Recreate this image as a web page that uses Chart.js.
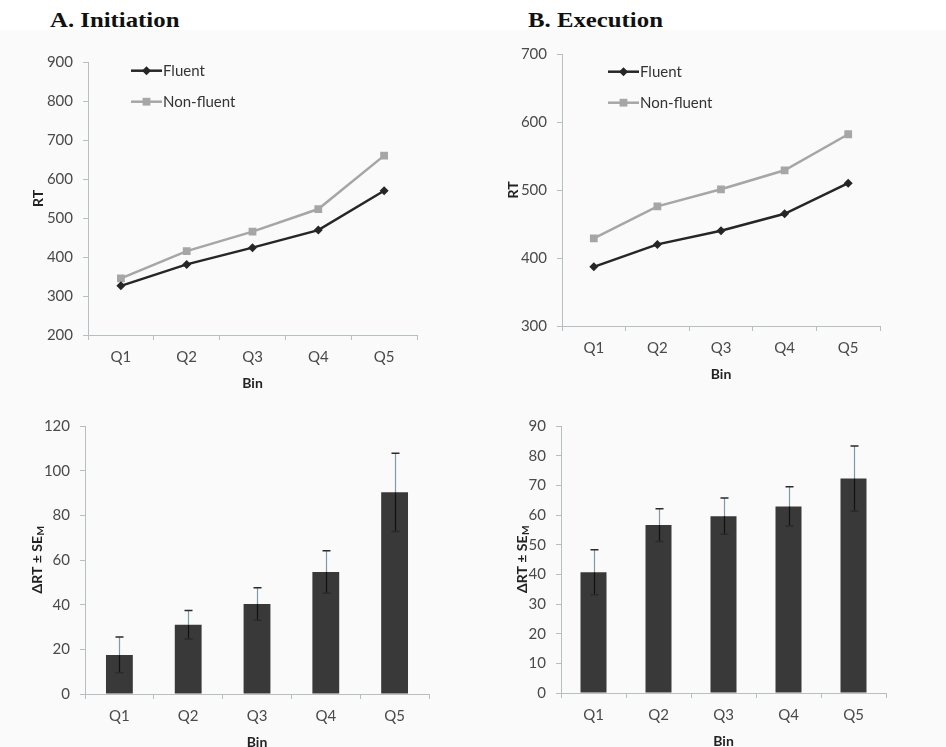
<!DOCTYPE html>
<html>
<head>
<meta charset="utf-8">
<script src="https://cdn.jsdelivr.net/npm/chart.js@4.4.1/dist/chart.umd.min.js"></script>
<style>
  html, body { margin: 0; padding: 0; }
  body { width: 946px; height: 747px; overflow: hidden; position: relative; background: #ffffff; }
  .panel-bg { position: absolute; left: 0; top: 30px; width: 946px; height: 717px; background: #fafafa; }
  .title { position: absolute; font-family: "Liberation Serif", serif; font-weight: bold; font-size: 21px;
           line-height: 21px; color: #111; transform: scaleX(1.18); transform-origin: left top; white-space: nowrap; }
  canvas { position: absolute; }
</style>
</head>
<body>
<div class="panel-bg"></div>
<div class="title" style="left:50px; top:10px;">A. Initiation</div>
<div class="title" style="left:528px; top:10px;">B. Execution</div>
<canvas id="initRT"></canvas>
<canvas id="execRT"></canvas>
<canvas id="initDelta"></canvas>
<canvas id="execDelta"></canvas>
<script>
// Données
const bins = ['Q1', 'Q2', 'Q3', 'Q4', 'Q5'];
const seriesNames = ['Fluent', 'Non-fluent'];

const initFluent = [326, 381, 424, 469, 570];
const initNonFluent = [345, 415, 465, 523, 660];
const execFluent = [387, 420, 440, 465, 510];
const execNonFluent = [429, 476, 501, 529, 582];

const initDiff = [17.5, 31, 40.3, 54.6, 90.3];
const initSE = [8, 6.4, 7.3, 9.5, 17.5];
const execDiff = [40.7, 56.6, 59.6, 62.9, 72.3];
const execSE = [7.6, 5.5, 6.1, 6.6, 11];

// Couleurs
const colors = {
  fluent: '#262626',
  nonFluent: '#a6a6a6',
  bar: '#393939',
  axis: '#b8bfc3',
  tick: '#4a4a4a',
  title: '#222222'
};
const tickFont = { family: 'Lato', size: 15 };
const titleFont = { family: 'Lato', size: 14, weight: 'bold' };

// Légende dessinée dans la zone du graphique
const miniLegend = {
  id: 'miniLegend',
  afterDraw(chart, args, opts) {
    if (!opts.show) return;
    const ctx = chart.ctx;
    const a = chart.chartArea;
    ctx.save();
    chart.data.datasets.forEach((ds, i) => {
      const x0 = a.left + opts.x;
      const y = a.top + opts.y + i * opts.gap;
      ctx.strokeStyle = ds.borderColor;
      ctx.lineWidth = ds.borderWidth;
      ctx.beginPath();
      ctx.moveTo(x0, y);
      ctx.lineTo(x0 + 31, y);
      ctx.stroke();
      ctx.fillStyle = ds.borderColor;
      const cx = x0 + 15.5;
      ctx.beginPath();
      if (ds.pointStyle === 'rectRot') {
        const r = ds.pointRadius;
        ctx.moveTo(cx, y - r); ctx.lineTo(cx + r, y); ctx.lineTo(cx, y + r); ctx.lineTo(cx - r, y);
        ctx.closePath();
      } else {
        const s = ds.pointRadius * Math.SQRT1_2;
        ctx.rect(cx - s, y - s, 2 * s, 2 * s);
      }
      ctx.fill();
      ctx.fillStyle = '#333333';
      ctx.font = '15px Lato';
      ctx.textBaseline = 'middle';
      ctx.textAlign = 'left';
      ctx.fillText(ds.label, x0 + 32, y);
    });
    ctx.restore();
  }
};

// Barres d'erreur ± SE
const errorBars = {
  id: 'errorBars',
  afterDatasetsDraw(chart, args, opts) {
    if (!opts.se) return;
    const ctx = chart.ctx;
    const ys = chart.scales.y;
    const values = chart.data.datasets[0].data;
    const meta = chart.getDatasetMeta(0);
    ctx.save();
    meta.data.forEach((bar, i) => {
      const x = Math.round(bar.x) + 0.5;
      const yTop = ys.getPixelForValue(values[i] + opts.se[i]);
      const yMid = ys.getPixelForValue(values[i]);
      const yBot = ys.getPixelForValue(values[i] - opts.se[i]);
      ctx.lineWidth = 1.2;
      ctx.strokeStyle = '#7f9aa8';
      ctx.beginPath(); ctx.moveTo(x, yTop); ctx.lineTo(x, yMid); ctx.stroke();
      ctx.strokeStyle = '#111111';
      ctx.beginPath(); ctx.moveTo(x, yMid); ctx.lineTo(x, yBot); ctx.stroke();
      ctx.strokeStyle = '#2a2a2a';
      ctx.lineWidth = 1.5;
      ctx.beginPath();
      ctx.moveTo(x - 4, yTop); ctx.lineTo(x + 4, yTop);
      ctx.moveTo(x - 4, yBot); ctx.lineTo(x + 4, yBot);
      ctx.stroke();
    });
    ctx.restore();
  }
};

// Titre vertical avec indice (ΔRT ± SE_M)
const subTitle = {
  id: 'subTitle',
  afterDraw(chart, args, opts) {
    if (!opts.show) return;
    const ctx = chart.ctx;
    const a = chart.chartArea;
    const x = chart.scales.y.left + 4 + 8.4;
    const y = (a.top + a.bottom) / 2;
    ctx.save();
    ctx.translate(x, y);
    ctx.rotate(-Math.PI / 2);
    ctx.fillStyle = colors.title;
    ctx.textBaseline = 'middle';
    ctx.textAlign = 'left';
    ctx.font = 'bold 14px Lato';
    const main = 'ΔRT ± SE';
    const w1 = ctx.measureText(main).width;
    ctx.font = 'bold 10px Lato';
    const w2 = ctx.measureText('M').width;
    const start = -(w1 + w2) / 2;
    ctx.font = 'bold 14px Lato';
    ctx.fillText(main, start, 0);
    ctx.font = 'bold 10px Lato';
    ctx.fillText('M', start + w1 + 0.5, 4);
    ctx.restore();
  }
};

function placeCanvas(id, box) {
  const c = document.getElementById(id);
  c.width = box.width;
  c.height = box.height;
  c.style.left = box.left + 'px';
  c.style.top = box.top + 'px';
  c.style.width = box.width + 'px';
  c.style.height = box.height + 'px';
  return c;
}

function buildScales(box, area, yTitleX, binY, yMin, yMax, yStep, yTitle) {
  const pl = yTitleX - 12.4 - box.left;
  const yW = area.L - box.left - pl;
  const xH = binY + 12.4 - area.B;
  const padding = {
    left: pl,
    top: area.T - box.top,
    right: box.left + box.width - area.R,
    bottom: box.top + box.height - (area.B + xH)
  };
  const scales = {
    x: {
      type: 'category',
      offset: true,
      grid: { display: true, offset: true, drawOnChartArea: false, drawTicks: true, tickLength: 5, color: colors.axis },
      border: { display: true, color: colors.axis, width: 1 },
      ticks: { color: colors.tick, font: tickFont, padding: 8, maxRotation: 0 },
      title: { display: true, text: 'Bin', color: colors.title, font: titleFont, padding: 4 },
      afterFit(s) { s.height = xH; }
    },
    y: {
      min: yMin,
      max: yMax,
      grid: { display: true, drawOnChartArea: false, drawTicks: true, tickLength: 5, color: colors.axis },
      border: { display: true, color: colors.axis, width: 1 },
      ticks: { stepSize: yStep, color: colors.tick, font: tickFont, padding: 10 },
      title: { display: !!yTitle, text: yTitle || '', color: colors.title, font: titleFont, padding: 4 },
      afterFit(s) { s.width = yW; }
    }
  };
  return { scales, padding };
}

function lineChart(id, box, area, yTitleX, binY, yMin, yMax, fluent, nonFluent, legendPos) {
  const canvas = placeCanvas(id, box);
  const built = buildScales(box, area, yTitleX, binY, yMin, yMax, 100, 'RT');
  return new Chart(canvas, {
    type: 'line',
    data: {
      labels: bins,
      datasets: [{
        label: seriesNames[0],
        data: fluent,
        borderColor: colors.fluent,
        backgroundColor: colors.fluent,
        borderWidth: 2.5,
        pointStyle: 'rectRot',
        pointRadius: 4.5,
        pointBorderWidth: 0,
        pointBackgroundColor: colors.fluent,
        tension: 0
      }, {
        label: seriesNames[1],
        data: nonFluent,
        borderColor: colors.nonFluent,
        backgroundColor: colors.nonFluent,
        borderWidth: 2.5,
        pointStyle: 'rect',
        pointRadius: 5.5,
        pointBorderWidth: 0,
        pointBackgroundColor: colors.nonFluent,
        tension: 0
      }]
    },
    options: {
      responsive: false,
      animation: false,
      devicePixelRatio: 1,
      layout: { padding: built.padding },
      scales: built.scales,
      plugins: {
        legend: { display: false },
        tooltip: { enabled: false },
        miniLegend: Object.assign({ show: true, gap: 31 }, legendPos)
      }
    },
    plugins: [miniLegend]
  });
}

function barChart(id, box, area, yTitleX, binY, yMax, yStep, diff, se, barPct) {
  const canvas = placeCanvas(id, box);
  const built = buildScales(box, area, yTitleX, binY, 0, yMax, yStep, null);
  return new Chart(canvas, {
    type: 'bar',
    data: {
      labels: bins,
      datasets: [{
        label: 'ΔRT',
        data: diff,
        backgroundColor: colors.bar,
        borderWidth: 0,
        categoryPercentage: 1,
        barPercentage: barPct
      }]
    },
    options: {
      responsive: false,
      animation: false,
      devicePixelRatio: 1,
      layout: { padding: built.padding },
      scales: built.scales,
      plugins: {
        legend: { display: false },
        tooltip: { enabled: false },
        errorBars: { se: se },
        subTitle: { show: true }
      }
    },
    plugins: [errorBars, subTitle]
  });
}

// A. Initiation
lineChart('initRT',
  { left: 0, top: 40, width: 470, height: 360 },
  { L: 88, T: 62, R: 417, B: 335 }, 38, 383,
  200, 900, initFluent, initNonFluent, { x: 43, y: 8.7 });

// B. Execution
lineChart('execRT',
  { left: 470, top: 35, width: 476, height: 365 },
  { L: 562, T: 53, R: 880, B: 326 }, 513, 374,
  300, 700, execFluent, execNonFluent, { x: 46, y: 17.7 });

barChart('initDelta',
  { left: 0, top: 400, width: 470, height: 360 },
  { L: 85, T: 426, R: 429, B: 694 }, 37, 742,
  120, 20, initDiff, initSE, 0.39);

barChart('execDelta',
  { left: 470, top: 400, width: 476, height: 360 },
  { L: 561, T: 426, R: 886, B: 693 }, 522, 741.7,
  90, 10, execDiff, execSE, 0.4);
</script>
</body>
</html>
